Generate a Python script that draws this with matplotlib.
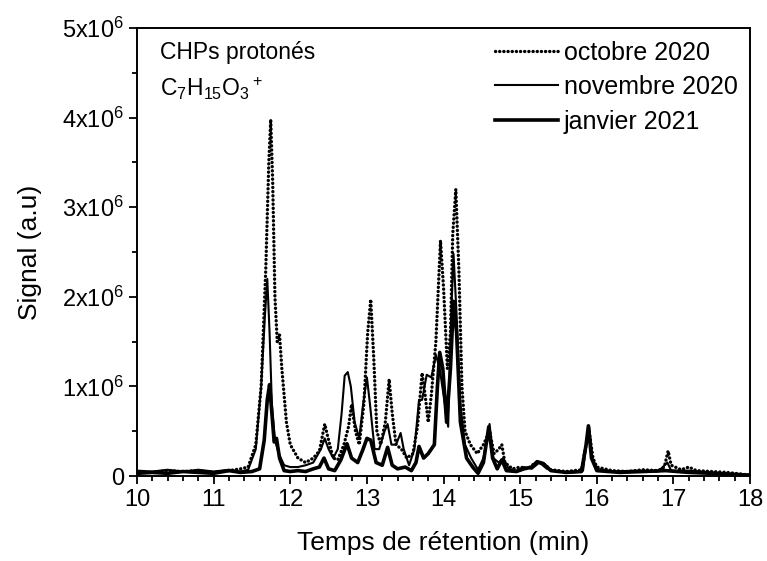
import matplotlib
matplotlib.use('Agg')
import matplotlib.pyplot as plt
from matplotlib.ticker import MultipleLocator, FuncFormatter

plt.rcParams['font.family'] = ['Liberation Sans', 'DejaVu Sans']
plt.rcParams['mathtext.fontset'] = 'custom'
plt.rcParams['mathtext.rm'] = 'Liberation Sans'
plt.rcParams['mathtext.default'] = 'regular'

# octobre 2020 (pointillé)
t_oct = [10.0, 10.2, 10.4, 10.6, 10.8, 11.0, 11.2, 11.35, 11.45, 11.55, 11.62, 11.68, 11.72, 11.745,
         11.77, 11.80, 11.83, 11.86, 11.89, 11.95, 12.0, 12.1, 12.2, 12.3, 12.38, 12.45, 12.5, 12.56,
         12.62, 12.7, 12.76, 12.8, 12.85, 12.9, 12.96, 13.01, 13.05, 13.09, 13.13, 13.18, 13.24, 13.29,
         13.33, 13.38, 13.45, 13.52, 13.6, 13.66, 13.72, 13.76, 13.80, 13.84, 13.9, 13.96, 14.0, 14.05,
         14.09, 14.12, 14.16, 14.2, 14.24, 14.28, 14.35, 14.44, 14.52, 14.6, 14.66, 14.72, 14.76, 14.8,
         14.9, 15.0, 15.1, 15.2, 15.3, 15.4, 15.5, 15.6, 15.7, 15.8, 15.86, 15.9, 15.95, 16.0, 16.2,
         16.4, 16.6, 16.8, 16.88, 16.93, 16.97, 17.1, 17.2, 17.3, 17.5, 17.7, 17.9, 18.0]
s_oct = [0.05, 0.04, 0.06, 0.05, 0.06, 0.04, 0.06, 0.08, 0.10, 0.35, 1.0, 2.3, 3.5, 3.98,
         3.3, 2.0, 1.5, 1.58, 1.2, 0.6, 0.35, 0.2, 0.15, 0.2, 0.28, 0.58, 0.4, 0.2,
         0.18, 0.35, 0.55, 0.8, 0.5, 0.35, 0.8, 1.6, 1.97, 1.3, 0.5, 0.35, 0.6, 1.08,
         0.7, 0.35, 0.3, 0.2, 0.25, 0.55, 1.15, 0.9, 0.6, 0.9, 1.5, 2.63, 2.1, 1.2,
         1.6, 2.7, 3.2, 2.3, 1.0, 0.5, 0.35, 0.25, 0.35, 0.5, 0.25, 0.3, 0.35, 0.15,
         0.08, 0.1, 0.08, 0.15, 0.14, 0.07, 0.06, 0.05, 0.06, 0.07, 0.35, 0.5, 0.2, 0.1, 0.06,
         0.05, 0.07, 0.06, 0.1, 0.28, 0.12, 0.07, 0.1, 0.06, 0.05, 0.04, 0.02, 0.01]

# novembre 2020 (trait fin)
t_nov = [10.0, 10.2, 10.4, 10.6, 10.8, 11.0, 11.2, 11.35, 11.45, 11.55, 11.62, 11.67, 11.70, 11.73,
         11.76, 11.80, 11.85, 11.92, 12.0, 12.1, 12.2, 12.3, 12.4, 12.45, 12.5, 12.56, 12.62, 12.67,
         12.71, 12.75, 12.79, 12.84, 12.9, 12.95, 13.0, 13.04, 13.1, 13.16, 13.23, 13.27, 13.32, 13.38,
         13.44, 13.48, 13.55, 13.62, 13.68, 13.72, 13.78, 13.84, 13.9, 13.95, 14.0, 14.06, 14.1, 14.13,
         14.17, 14.22, 14.28, 14.36, 14.45, 14.52, 14.6, 14.65, 14.72, 14.78, 14.85, 14.95, 15.05,
         15.15, 15.25, 15.35, 15.5, 15.7, 15.82, 15.87, 15.9, 15.94, 16.0, 16.2, 16.5, 16.8, 16.92,
         16.97, 17.2, 17.5, 17.8, 18.0]
s_nov = [0.06, 0.05, 0.07, 0.05, 0.07, 0.05, 0.07, 0.05, 0.07, 0.3, 1.0, 1.8, 2.2, 1.6,
         0.8, 0.4, 0.25, 0.12, 0.1, 0.1, 0.12, 0.15, 0.3, 0.42, 0.3, 0.2, 0.3, 0.7,
         1.12, 1.16, 1.0, 0.6, 0.42, 0.8, 1.1, 0.8, 0.3, 0.3, 0.5, 0.58, 0.35, 0.35,
         0.48, 0.3, 0.12, 0.3, 0.85, 0.85, 1.13, 1.1, 1.35, 1.2, 0.9, 0.55, 1.8, 2.48,
         1.8, 0.8, 0.35, 0.2, 0.07, 0.2, 0.58, 0.2, 0.15, 0.2, 0.08, 0.06, 0.1,
         0.08, 0.15, 0.08, 0.05, 0.04, 0.06, 0.4, 0.55, 0.2, 0.08, 0.05, 0.06, 0.05, 0.15,
         0.06, 0.06, 0.04, 0.02, 0.01]

# janvier 2021 (trait épais)
t_jan = [10.0, 10.2, 10.4, 10.6, 10.8, 11.0, 11.2, 11.35, 11.5, 11.6, 11.66, 11.7, 11.73, 11.76,
         11.79, 11.82, 11.86, 11.92, 12.0, 12.1, 12.2, 12.3, 12.38, 12.44, 12.5, 12.58, 12.66, 12.74,
         12.8, 12.88, 12.95, 13.0, 13.05, 13.12, 13.2, 13.27, 13.33, 13.4, 13.5, 13.58, 13.64, 13.68,
         13.74, 13.8, 13.88, 13.92, 13.95, 13.99, 14.04, 14.09, 14.13, 14.17, 14.22, 14.3, 14.38,
         14.45, 14.52, 14.59, 14.64, 14.7, 14.76, 14.82, 14.95, 15.05, 15.15, 15.22, 15.3, 15.4,
         15.6, 15.8, 15.86, 15.89, 15.93, 16.0, 16.3, 16.6, 16.9, 17.2, 17.5, 18.0]
s_jan = [0.03, 0.04, 0.03, 0.05, 0.04, 0.03, 0.06, 0.04, 0.05, 0.08, 0.4, 0.85, 1.02, 0.7,
         0.38, 0.42, 0.2, 0.06, 0.05, 0.06, 0.05, 0.08, 0.1, 0.2, 0.08, 0.06, 0.18, 0.36,
         0.2, 0.15, 0.3, 0.42, 0.4, 0.15, 0.12, 0.32, 0.12, 0.08, 0.1, 0.06, 0.15, 0.33,
         0.2, 0.25, 0.35, 1.0, 1.38, 1.2, 0.6, 1.2, 1.95, 1.6, 0.6, 0.2, 0.1,
         0.03, 0.15, 0.55, 0.2, 0.08, 0.18, 0.06, 0.05, 0.08, 0.1, 0.16, 0.14, 0.06,
         0.04, 0.05, 0.35, 0.56, 0.2, 0.06, 0.04, 0.05, 0.06, 0.04, 0.03, 0.01]

fig = plt.figure(figsize=(7.67, 5.61), dpi=100)
ax = fig.add_axes([0.1786, 0.1515, 0.7994, 0.7985])

ax.plot(t_oct, [v * 1e6 for v in s_oct], color='black', lw=2.4, linestyle=(0, (0.05, 1.2)),
        dash_capstyle='round', label='octobre 2020')
ax.plot(t_nov, [v * 1e6 for v in s_nov], color='black', lw=1.5, label='novembre 2020')
ax.plot(t_jan, [v * 1e6 for v in s_jan], color='black', lw=2.6, label='janvier 2021')

ax.set_xlim(10, 18)
ax.set_ylim(0, 5e6)
ax.xaxis.set_major_locator(MultipleLocator(1))
ax.xaxis.set_minor_locator(MultipleLocator(0.2))
ax.yaxis.set_major_locator(MultipleLocator(1e6))
ax.yaxis.set_minor_locator(MultipleLocator(0.5e6))


def fmt_y(v, pos):
    n = int(round(v / 1e6))
    if n == 0:
        return '0'
    return '%dx10$^{6}$' % n


ax.yaxis.set_major_formatter(FuncFormatter(fmt_y))
ax.tick_params(which='both', direction='out', width=1.3, labelsize=17, top=False, right=False)
ax.tick_params(which='major', length=6)
ax.tick_params(which='minor', length=3.5)
for sp in ax.spines.values():
    sp.set_linewidth(1.4)

ax.set_xlabel('Temps de rétention (min)', fontsize=19, labelpad=14)
ax.set_ylabel('Signal (a.u)', fontsize=19, labelpad=14)

ax.text(0.037, 0.97, 'CHPs protonés', transform=ax.transAxes, fontsize=16.5, va='top')
ax.text(0.037, 0.895, 'C$_7$H$_{15}$O$_3$$^+$', transform=ax.transAxes, fontsize=16.5, va='top')

ax.legend(loc='upper right', frameon=False, fontsize=18, handlelength=2.5,
          handletextpad=0.25, labelspacing=0.42, borderaxespad=0.3, borderpad=0.2)

fig.savefig('out.png', dpi=100)
